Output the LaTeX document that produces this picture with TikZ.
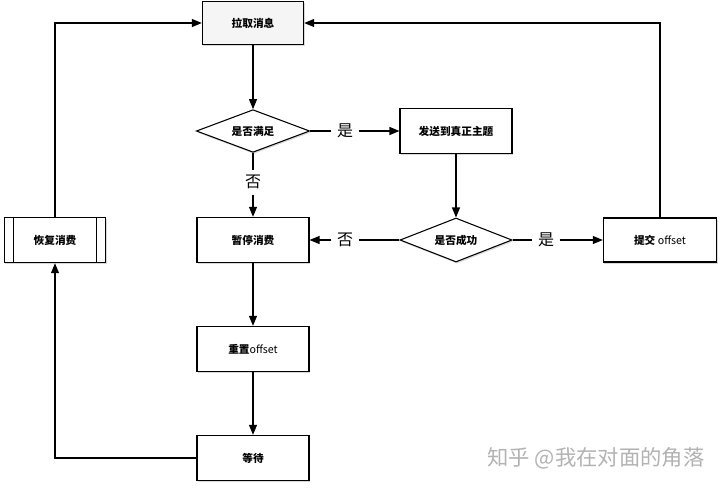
\documentclass[tikz,border=0pt]{standalone}
\usepackage{fontspec}
\setmainfont{Noto Sans CJK SC}
\usetikzlibrary{arrows.meta,shapes.geometric,shadows,calc}
\tikzset{
  procbox/.style={draw, line width=0.8pt, fill=white, minimum width=84pt, minimum height=34pt, inner sep=1pt, font=\footnotesize\bfseries, drop shadow={shadow xshift=0.8pt,shadow yshift=-1.2pt,opacity=0.3}},
  decision/.style={draw, diamond, aspect=2.6, line width=0.8pt, fill=white, minimum width=85pt, minimum height=32pt, inner sep=0pt, font=\footnotesize\bfseries, drop shadow={shadow xshift=0.8pt,shadow yshift=-1.2pt,opacity=0.3}},
  answer/.style={font=\large, inner sep=4pt},
  flowline/.style={line width=0.8pt},
  flowarrow/.style={flowline, -{Triangle[length=7.5pt,width=6pt]}},
  watermark/.style={font=\fontsize{16}{18}\selectfont, text=black!30, inner sep=0pt}
}
\begin{document}
\begin{tikzpicture}[x=0.75pt,y=0.75pt,yscale=-1,xscale=1]
\useasboundingbox (0,0) rectangle (720,487);

%Shape: Rectangle [pull]
\node[procbox, minimum width=76pt, minimum height=32pt, fill=black!4] (pull) at (253,23) {拉取消息};
%Shape: Diamond [check]
\node[decision] (check) at (253,131) {是否满足};
%Shape: Rectangle [send]
\node[procbox] (send) at (456,131) {发送到真正主题};
%Shape: Rectangle [pause]
\node[procbox] (pause) at (253,240) {暂停消费};
%Shape: Diamond [success]
\node[decision, minimum width=84pt, minimum height=33pt] (success) at (456,240) {是否成功};
%Shape: Rectangle [commit]
\node[procbox, minimum width=85pt, minimum height=33pt] (commit) at (660,240) {提交 {\mdseries offset}};
%Shape: Predefined process [resume]
\node[procbox, minimum width=76pt] (resume) at (55,240) {恢复消费};
\draw[flowline] ($(resume.north west)+(10,0)$) -- ($(resume.south west)+(10,0)$);
\draw[flowline] ($(resume.north east)+(-10,0)$) -- ($(resume.south east)+(-10,0)$);
%Shape: Rectangle [reset]
\node[procbox] (reset) at (253,349) {重置{\mdseries offset}};
%Shape: Rectangle [wait]
\node[procbox] (wait) at (253,458) {等待};

% Text Node
\node[answer] (yes1) at (345,131) {是};
% Text Node
\node[answer] (no1) at (253,182) {否};
% Text Node
\node[answer] (no2) at (345,240) {否};
% Text Node
\node[answer] (yes2) at (546,240) {是};
% Text Node
\node[watermark] (mark) at (596,458) {知乎 @我在对面的角落};

%Straight Lines
\draw[flowarrow] (pull) -- (check);
\draw[flowline] (check) -- (yes1);
\draw[flowarrow] (yes1) -- (send);
\draw[flowline] (check) -- (no1);
\draw[flowarrow] (no1) -- (pause);
\draw[flowarrow] (send) -- (success);
\draw[flowline] (success) -- (no2);
\draw[flowarrow] (no2) -- (pause);
\draw[flowline] (success) -- (yes2);
\draw[flowarrow] (yes2) -- (commit);
\draw[flowarrow] (pause) -- (reset);
\draw[flowarrow] (reset) -- (wait);
%Elbow Lines
\draw[flowarrow] (wait) -| (resume);
\draw[flowarrow] (resume) |- (pull);
\draw[flowarrow] (commit) |- (pull);

\end{tikzpicture}
\end{document}
